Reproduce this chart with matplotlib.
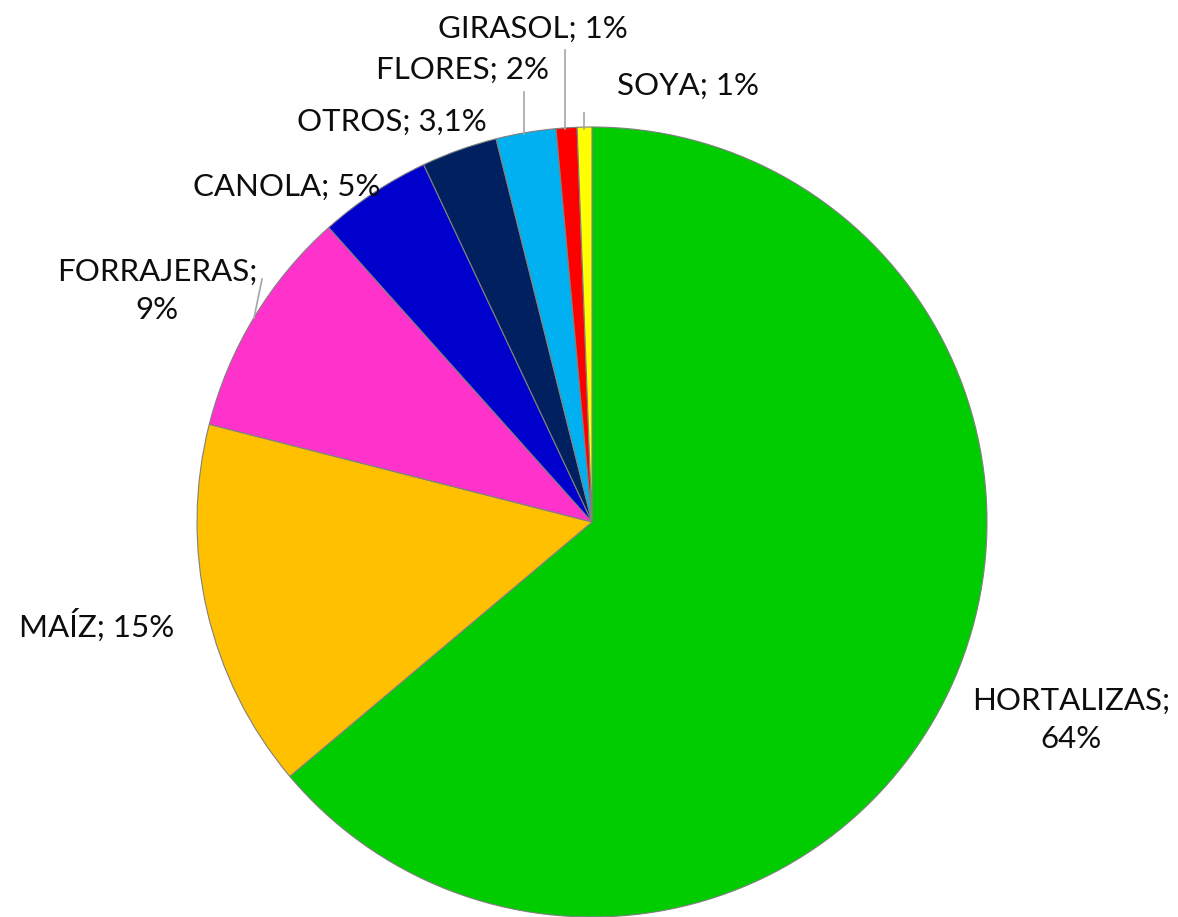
import matplotlib.pyplot as plt

# data (clockwise from 12 o'clock)
cultivos = ["HORTALIZAS", "MAÍZ", "FORRAJERAS", "CANOLA", "OTROS", "FLORES", "GIRASOL", "SOYA"]
porcentajes = [63.8, 15.1, 9.4, 4.6, 3.1, 2.45, 0.85, 0.6]
etiquetas = ["HORTALIZAS;\n64%", "MAÍZ; 15%", "FORRAJERAS;\n9%", "CANOLA; 5%",
             "OTROS; 3,1%", "FLORES; 2%", "GIRASOL; 1%", "SOYA; 1%"]
colores = ["#00CC00", "#FFC000", "#FF33CC", "#0000CC", "#002060", "#00B0F0", "#FF0000", "#FFFF00"]

W, H = 1178, 917
CX, CY, R = 592, 522, 395


def px(x, y):
    # pixel position -> data coords (pie centre at 0,0 with radius 1)
    return (x - CX) / R, (CY - y) / R


# label centres in pixels, leader lines (pixel start, end)
pos_etiquetas = [(1071, 720), (97, 625), (157, 291), (287, 187),
                 (392, 122), (462, 70), (533, 29), (688, 86)]
lineas = [None, None, ((262, 279), (254, 318)), None, None,
          ((524, 92), (524, 134)), ((565, 50), (565, 129)), ((584, 113), (584, 129))]

plt.rcParams["font.family"] = ["Lato", "DejaVu Sans"]

fig = plt.figure(figsize=(W / 100, H / 100), dpi=100)
ax = fig.add_axes([0, 0, 1, 1])

ax.pie(porcentajes, colors=colores, startangle=90, counterclock=False, radius=1,
       wedgeprops=dict(edgecolor="#808080", linewidth=0.8))

for texto, (x, y), ln in zip(etiquetas, pos_etiquetas, lineas):
    ax.text(*px(x, y), texto, ha="center", va="center", fontsize=22.5,
            fontweight="normal", color="#0d0d0d", linespacing=1.45)
    if ln is not None:
        (x0, y0), (x1, y1) = ln
        a, b = px(x0, y0)
        c, d = px(x1, y1)
        ax.plot([a, c], [b, d], color="#a6a6a6", linewidth=1.2)

x0, y0 = px(0, H)
x1, y1 = px(W, 0)
ax.set_xlim(x0, x1)
ax.set_ylim(y0, y1)
ax.set_aspect("equal")
ax.axis("off")

fig.savefig("out.png", dpi=100)
